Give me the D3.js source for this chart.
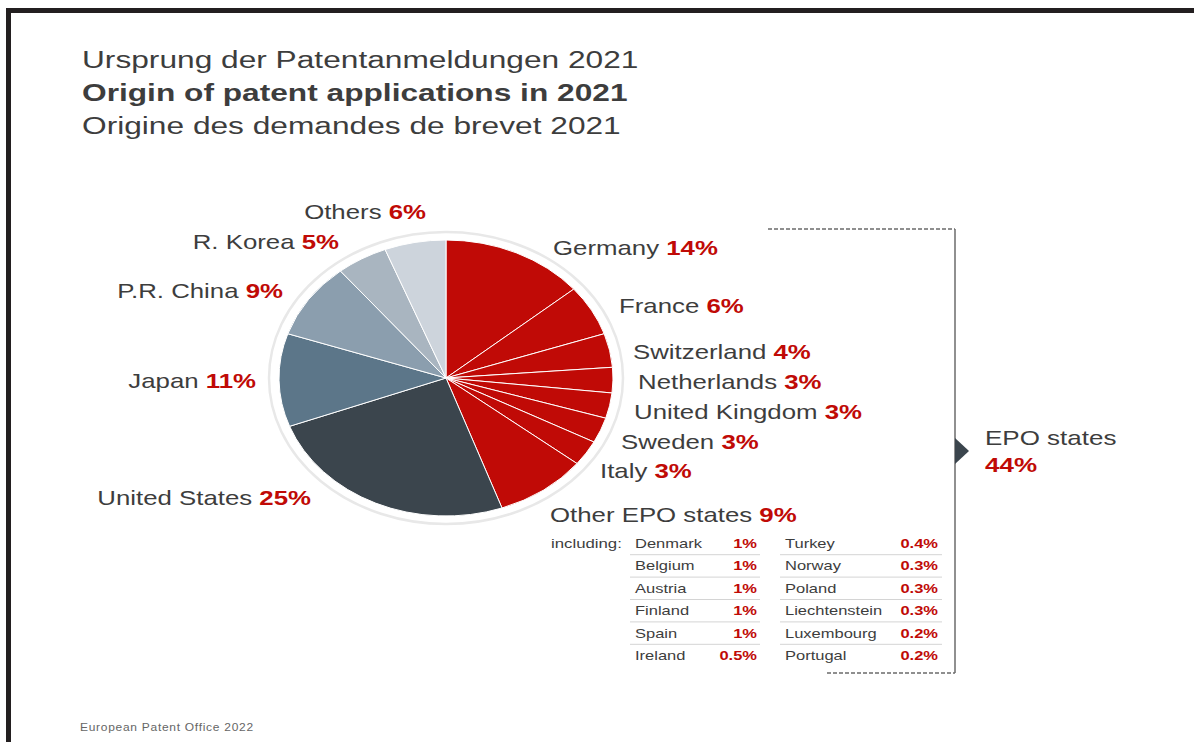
<!DOCTYPE html>
<html><head><meta charset="utf-8">
<script src="https://cdn.jsdelivr.net/npm/d3@7"></script>
<style>
html,body{margin:0;padding:0;background:#fff;}
svg{display:block;font-family:"Liberation Sans",Arial,sans-serif;}
</style></head>
<body>
<svg id="c" width="1194" height="742"></svg>
<script>
// ---- data ----
const titles = ["Ursprung der Patentanmeldungen 2021", "Origin of patent applications in 2021", "Origine des demandes de brevet 2021"];
const categories = ["Germany","France","Switzerland","Netherlands","United Kingdom","Sweden","Italy","Other EPO states","United States","Japan","P.R. China","R. Korea","Others"];
const shares = [14,6,4,3,3,3,3,9,25,11,9,5,6];
const shareLabels = ["14%","6%","4%","3%","3%","3%","3%","9%","25%","11%","9%","5%","6%"];
const epoLabel = "EPO states";
const epoShare = "44%";
const otherEpoNamesA = ["Denmark","Belgium","Austria","Finland","Spain","Ireland"];
const otherEpoValuesA = ["1%","1%","1%","1%","1%","0.5%"];
const otherEpoNamesB = ["Turkey","Norway","Poland","Liechtenstein","Luxembourg","Portugal"];
const otherEpoValuesB = ["0.4%","0.3%","0.3%","0.3%","0.2%","0.2%"];
const footer = "European Patent Office 2022";

// ---- styles / layout ----
const RED = "#c00a06", TXT = "#3d3d3d";
const SX = 1.29; // horizontal stretch of the original artwork's lettering
const sliceColors = [RED,RED,RED,RED,RED,RED,RED,RED,"#3b454d","#5c7689","#8b9eae","#a9b5c0","#cdd4dc"];
// label anchor: [x, centerY, anchor]
const labelLayout = [
  [553,248,"start"],[619,306,"start"],[633,352,"start"],[638,382,"start"],[634,412,"start"],
  [621,442,"start"],[600,471,"start"],[550,515,"start"],
  [311,498,"end"],[256,381,"end"],[283,291,"end"],[339,242,"end"],[426,212,"end"]
];

const svg = d3.select("#c");
function place(sel, fx, fy, s){ // position text at anchor with horizontal stretch
  sel.attr("transform",(d,i)=>`translate(${typeof fx==="function"?fx(d,i):fx},${typeof fy==="function"?fy(d,i):fy}) scale(${s||SX},1)`);
  return sel;
}

// frame (top and left black bars)
svg.append("rect").attr("x",6).attr("y",8).attr("width",1188).attr("height",5).attr("fill","#231f20");
svg.append("rect").attr("x",6).attr("y",8).attr("width",5).attr("height",734).attr("fill","#231f20");

// titles
place(svg.selectAll("text.title").data(titles).enter().append("text")
  .attr("class","title")
  .attr("font-size",24)
  .attr("font-weight",(d,i)=>i===1?"bold":"normal")
  .attr("fill",TXT)
  .text(d=>d), 82, (d,i)=>60+i*33+8, 1.32);

// pie
const cx=446, cy=378, rx=167, ry=138;
const pieG = svg.append("g").attr("transform",`translate(${cx},${cy})`);
pieG.append("ellipse").attr("rx",rx+10).attr("ry",ry+8)
  .attr("fill","none").attr("stroke","#e8e8e8").attr("stroke-width",2.5);
const sc = pieG.append("g").attr("transform",`scale(${rx/ry},1)`);
const pie = d3.pie().sort(null).value(d=>d)(shares);
const arc = d3.arc().innerRadius(0).outerRadius(ry);
sc.selectAll("path").data(pie).enter().append("path")
  .attr("d",arc)
  .attr("fill",(d,i)=>sliceColors[i])
  .attr("stroke","#fff").attr("stroke-width",1)
  .attr("vector-effect","non-scaling-stroke");

// slice labels
const lbl = place(svg.selectAll("text.lbl").data(categories).enter().append("text")
  .attr("class","lbl")
  .attr("text-anchor",(d,i)=>labelLayout[i][2])
  .attr("font-size",20).attr("fill",TXT),
  (d,i)=>labelLayout[i][0], (d,i)=>labelLayout[i][1]+7);
lbl.append("tspan").text(d=>d+" ");
lbl.append("tspan").attr("font-weight","bold").attr("fill",RED).text((d,i)=>shareLabels[i]);

// bracket
const br = svg.append("g").attr("stroke","#6b6b6b").attr("fill","none");
br.append("line").attr("x1",768).attr("x2",955).attr("y1",229).attr("y2",229).attr("stroke-dasharray","4,2").attr("stroke-width",1.3);
br.append("line").attr("x1",827).attr("x2",955).attr("y1",673).attr("y2",673).attr("stroke-dasharray","4,2").attr("stroke-width",1.3);
br.append("line").attr("x1",955).attr("x2",955).attr("y1",229).attr("y2",673).attr("stroke-width",1.5);
svg.append("path").attr("d","M955,438 L969,451 L955,464 Z").attr("fill","#3b454d");
place(svg.append("text").attr("font-size",20).attr("fill",TXT).text(epoLabel), 985, 445, 1.3);
place(svg.append("text").attr("font-size",20).attr("font-weight","bold").attr("fill",RED).text(epoShare), 985, 472, 1.3);

// table
const rowY = d3.scaleLinear().domain([0,5]).range([543,655]);
place(svg.append("text").attr("font-size",13).attr("fill",TXT).text("including:"), 551, 548);
function col(names, values, xName, xVal, lx1, lx2){
  const g = svg.append("g");
  g.selectAll("line").data(names.slice(1)).enter().append("line")
    .attr("x1",lx1).attr("x2",lx2)
    .attr("y1",(d,i)=>(rowY(i)+rowY(i+1))/2+0.5).attr("y2",(d,i)=>(rowY(i)+rowY(i+1))/2+0.5)
    .attr("stroke","#d4d4d4").attr("stroke-width",1);
  place(g.selectAll("text.n").data(names).enter().append("text").attr("class","n")
    .attr("font-size",13).attr("fill",TXT).text(d=>d), xName, (d,i)=>rowY(i)+5, 1.27);
  place(g.selectAll("text.v").data(values).enter().append("text").attr("class","v")
    .attr("text-anchor","end")
    .attr("font-size",13).attr("font-weight","bold").attr("fill",RED).text(d=>d), xVal, (d,i)=>rowY(i)+5, 1.27);
}
col(otherEpoNamesA, otherEpoValuesA, 635, 757, 630, 760);
col(otherEpoNamesB, otherEpoValuesB, 785, 938, 780, 942);

// footer
place(svg.append("text").attr("font-size",10).attr("letter-spacing",0.6)
  .attr("fill","#666").text(footer), 80, 731, 1.2);
</script>
</body></html>
